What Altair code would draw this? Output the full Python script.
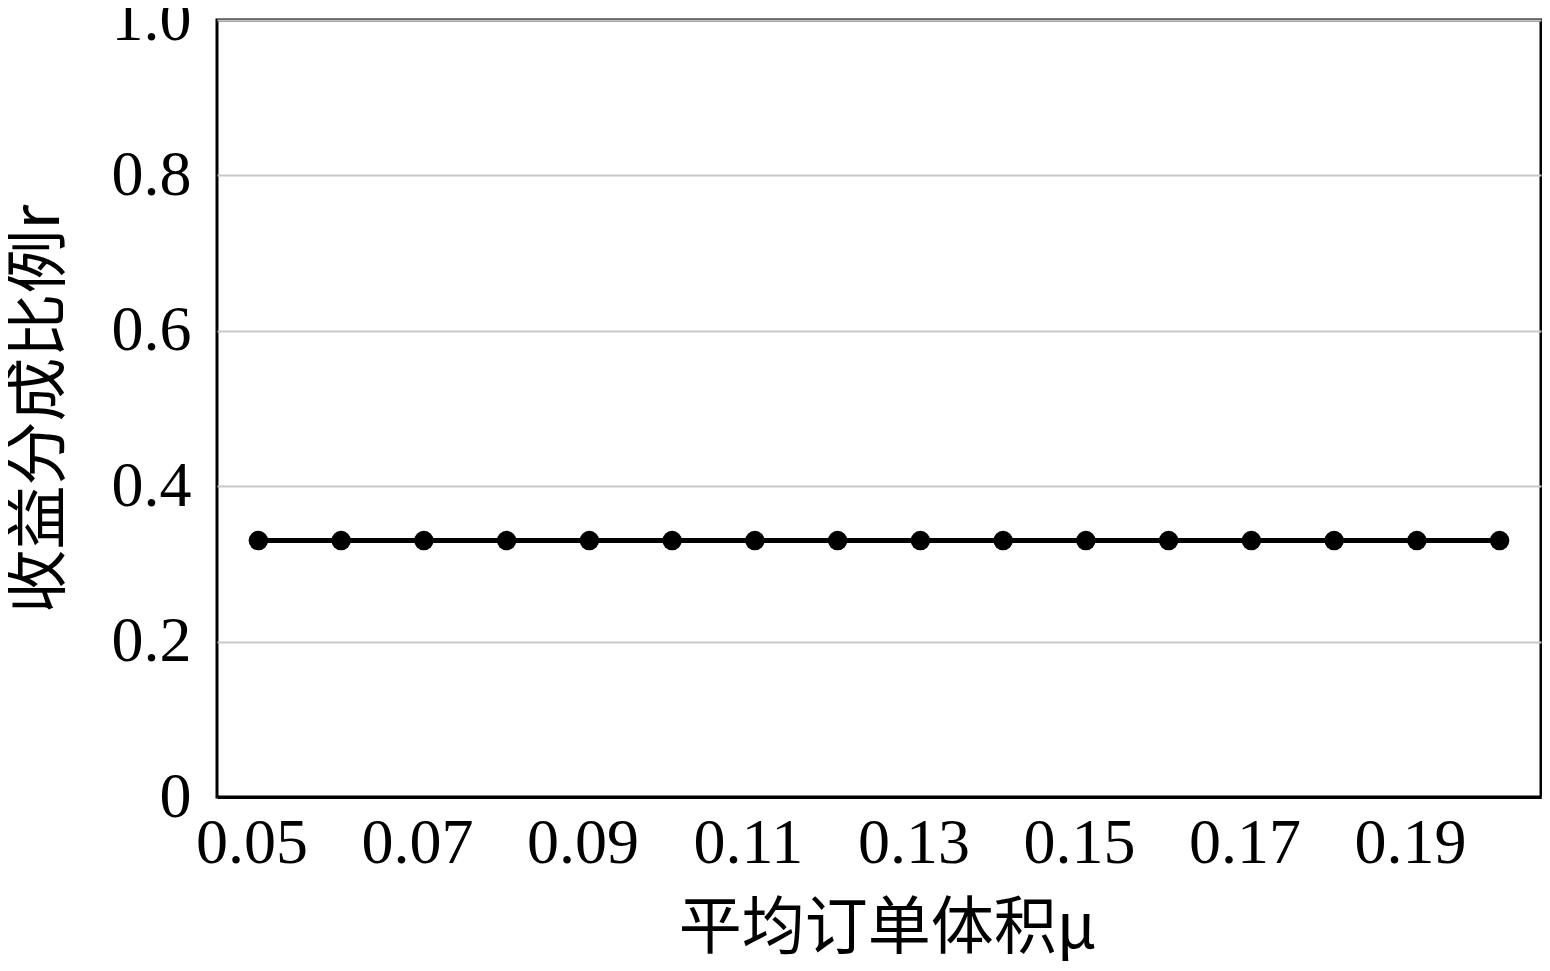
import altair as alt
import pandas as pd

mu_values = ["0.05", "0.06", "0.07", "0.08", "0.09", "0.10", "0.11", "0.12",
             "0.13", "0.14", "0.15", "0.16", "0.17", "0.18", "0.19", "0.20"]
r_values = [0.33] * 16
x_tick_labels = ["0.05", "0.07", "0.09", "0.11", "0.13", "0.15", "0.17", "0.19"]
y_ticks = [0, 0.2, 0.4, 0.6, 0.8, 1.0]

df = pd.DataFrame({"mu": mu_values, "r": r_values})

NUM_FONT = "Liberation Serif"
CJK_FONT = "Noto Sans CJK SC"

x = alt.X("mu:O", sort=mu_values,
          scale=alt.Scale(type="point", padding=0.5),
          axis=alt.Axis(title="平均订单体积μ", values=x_tick_labels, labelAngle=0,
                        labelFont=NUM_FONT, labelFontSize=64, labelColor="black",
                        labelPadding=14, labelOffset=-7, ticks=False,
                        domainColor="black", domainWidth=3,
                        titleFont=CJK_FONT, titleFontSize=63, titleFontWeight="normal",
                        titleColor="black", titlePadding=22, titleX=670,
                        titleAnchor="middle", titleAlign="center"))
y = alt.Y("r:Q", scale=alt.Scale(domain=[0, 1]),
          axis=alt.Axis(title="收益分成比例r", values=y_ticks,
                        labelExpr="datum.value == 0 ? '0' : format(datum.value, '.1f')",
                        labelFont=NUM_FONT, labelFontSize=64, labelColor="black",
                        labelPadding=26, ticks=False, domain=False,
                        gridColor="#c8c8c8", gridWidth=2,
                        titleFont=CJK_FONT, titleFontSize=64, titleFontWeight="normal",
                        titleColor="black", titlePadding=40))

line = alt.Chart(df).mark_line(color="black", strokeWidth=5).encode(x=x, y=y)
pts = alt.Chart(df).mark_circle(color="black", size=380, opacity=1).encode(x=x, y=y)

chart = (line + pts).properties(
    width=1324, height=777,
    autosize=alt.AutoSizeParams(type="none"),
    padding={"left": 209, "top": 12, "right": 1, "bottom": 166},
).configure(background="white").configure_view(stroke="black", strokeWidth=3)

chart.save("out.html", embed_options={"renderer": "svg", "actions": False})
